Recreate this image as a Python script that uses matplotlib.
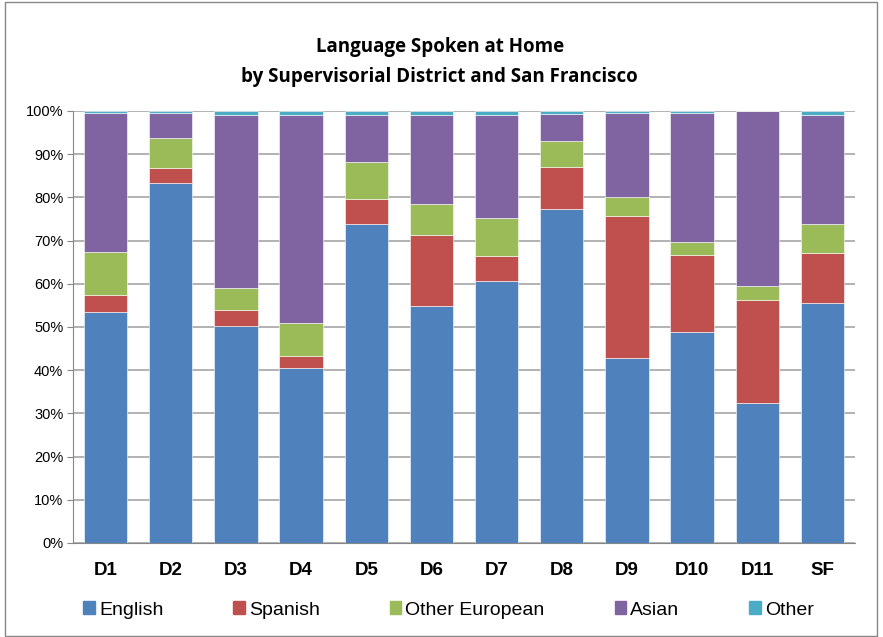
import matplotlib.pyplot as plt
import numpy as np
from matplotlib.patches import Rectangle, Patch

districts = ['D1', 'D2', 'D3', 'D4', 'D5', 'D6', 'D7', 'D8', 'D9', 'D10', 'D11', 'SF']
english = [53.5, 83.3, 50.3, 40.6, 73.8, 54.9, 60.6, 77.3, 42.9, 48.9, 32.5, 55.6]
spanish = [3.9, 3.5, 3.6, 2.8, 5.9, 16.5, 5.8, 9.8, 32.9, 17.8, 23.8, 11.6]
other_european = [9.9, 6.9, 5.1, 7.5, 8.6, 7.1, 8.8, 5.9, 4.4, 2.9, 3.2, 6.6]
asian = [32.3, 5.9, 40.1, 48.2, 10.7, 20.5, 23.9, 6.3, 19.4, 30.0, 40.4, 25.3]
other = [0.4, 0.4, 0.9, 0.9, 1.0, 1.0, 0.9, 0.7, 0.4, 0.4, 0.1, 0.9]

series = [('English', english, '#4F81BD'),
          ('Spanish', spanish, '#C0504D'),
          ('Other European', other_european, '#9BBB59'),
          ('Asian', asian, '#8064A2'),
          ('Other', other, '#4BACC6')]

narrow = ['Liberation Sans Narrow', 'Liberation Sans', 'DejaVu Sans']

fig = plt.figure(figsize=(8.83, 6.37), dpi=100)
ax = fig.add_axes([73 / 883, 1 - 543 / 637, (855 - 73) / 883, (543 - 111) / 637])

x = np.arange(len(districts))
total = np.array(english) + np.array(spanish) + np.array(other_european) + np.array(asian) + np.array(other)
bottom = np.zeros(len(districts))
for name, vals, col in series:
    share = np.array(vals) / total * 100
    ax.bar(x, share, 0.665, bottom=bottom, color=col, edgecolor='white',
           linewidth=0.4, label=name, zorder=3)
    bottom += share

ax.set_xlim(-0.5, len(districts) - 0.5)
ax.set_ylim(0, 100)
ax.set_yticks(np.arange(0, 101, 10))
ax.set_yticklabels([f'{v}%' for v in range(0, 101, 10)], family=narrow, fontsize=10.5)
ax.set_xticks(x)
ax.set_xticklabels(districts, family=narrow, fontsize=13.5, fontweight='bold')
ax.tick_params(axis='x', length=0, pad=14)
ax.tick_params(axis='y', length=4, color='#868686', pad=3)
ax.grid(axis='y', color='#A6A6A6', linewidth=1.2, zorder=0)
for s in ['top', 'right']:
    ax.spines[s].set_visible(False)
for s in ['left', 'bottom']:
    ax.spines[s].set_color('#868686')

fig.text(0.498, 1 - 47 / 637, 'Language Spoken at Home', ha='center', va='center',
         fontsize=13.5, fontweight='bold', family=['Open Sans', 'DejaVu Sans'])
fig.text(0.498, 1 - 77 / 637, 'by Supervisorial District and San Francisco', ha='center', va='center',
         fontsize=13.5, fontweight='bold', family=['Open Sans', 'DejaVu Sans'])

handles = [Patch(color=c, label=n) for n, _, c in series]
fig.legend(handles=handles, loc='center', bbox_to_anchor=(0.508, 1 - 610 / 637), ncol=5,
           frameon=False, handlelength=0.6, handleheight=0.6, handletextpad=0.2,
           columnspacing=3.6, prop={'family': narrow, 'size': 14})

fig.patches.append(Rectangle((5 / 883, 0.002), 872 / 883, 0.995, transform=fig.transFigure,
                             fill=False, edgecolor='#868686', linewidth=1))

fig.savefig('out.png', dpi=100)
